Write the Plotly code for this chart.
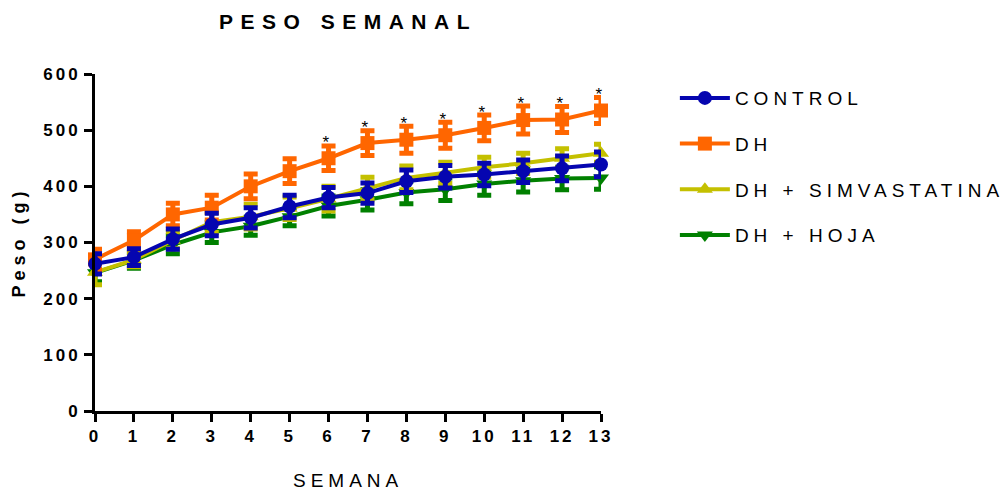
import plotly.graph_objects as go

weeks = list(range(14))
tick_labels = [str(w) for w in weeks]

control = [262, 274, 306, 332, 344, 364, 380, 388, 409, 417, 421, 427, 432, 439]
control_err = [18, 15, 18, 20, 18, 20, 18, 18, 20, 20, 20, 20, 22, 22]

dh = [270, 304, 350, 362, 400, 427, 450, 477, 483, 491, 504, 518, 519, 535]
dh_err = [18, 15, 20, 22, 22, 22, 22, 22, 24, 23, 23, 25, 23, 23]

simva = [247, 269, 304, 336, 346, 361, 378, 396, 415, 424, 434, 441, 450, 459]
simva_err = [22, 12, 15, 18, 22, 20, 22, 20, 21, 19, 18, 18, 17, 16]

hoja = [246, 268, 296, 318, 329, 346, 365, 376, 389, 395, 404, 410, 414, 415]
hoja_err = [16, 14, 16, 18, 16, 16, 18, 18, 20, 20, 20, 20, 20, 20]

signif_weeks = [6, 7, 8, 9, 10, 11, 12, 13]

FONT = "Liberation Sans, Arial, sans-serif"

# drawn bottom to top; legend rank gives the displayed order
series = [
    ("DH + HOJA", hoja, hoja_err, "#008000", "triangle-down", 4),
    ("DH + SIMVASTATINA", simva, simva_err, "#C4C000", "triangle-up", 3),
    ("DH", dh, dh_err, "#FF6600", "square", 2),
    ("CONTROL", control, control_err, "#0505B0", "circle", 1),
]

fig = go.Figure()
for name, vals, errs, color, sym, rank in series:
    fig.add_trace(go.Scatter(
        x=weeks, y=vals, name=name, mode="lines+markers",
        legendgroup=name, legendrank=rank,
        line=dict(color=color, width=4),
        marker=dict(color=color, symbol=sym, size=14),
        error_y=dict(type="data", array=errs, visible=True,
                     color=color, thickness=5, width=7),
        cliponaxis=False,
    ))

for w in signif_weeks:
    fig.add_annotation(x=w, y=dh[w] + dh_err[w], text="*", showarrow=False,
                       xref="x", yref="y", xanchor="center", yanchor="middle",
                       yshift=3, font=dict(family=FONT, size=17, color="black"))

fig.update_layout(
    width=1006, height=491,
    margin=dict(l=95, r=405, t=74, b=80, autoexpand=False),
    paper_bgcolor="white", plot_bgcolor="white",
    font=dict(family=FONT, color="black"),
    title=dict(text="<b>PESO SEMANAL</b>", x=0.5, xref="paper", xanchor="center",
               y=1 - 22 / 491, yref="container", yanchor="middle",
               font=dict(size=21, family=FONT, color="black")),
    legend=dict(x=1.146, xanchor="left", y=0.985, yanchor="top",
                traceorder="grouped", tracegroupgap=18, itemwidth=50,
                font=dict(size=19, family=FONT, color="black"),
                bgcolor="rgba(0,0,0,0)"),
    showlegend=True,
)

fig.update_xaxes(
    range=[0, 13], tickmode="array", tickvals=weeks, ticktext=tick_labels,
    showline=True, linecolor="black", linewidth=3, ticks="outside",
    ticklen=8, tickwidth=3, tickcolor="black", showgrid=False, zeroline=False,
    tickfont=dict(size=17, family=FONT, color="black", weight="bold"),
)
fig.update_yaxes(
    range=[0, 600], tickmode="array", tickvals=[0, 100, 200, 300, 400, 500, 600],
    showline=True, linecolor="black", linewidth=3, ticks="outside",
    ticklen=8, tickwidth=3, tickcolor="black", showgrid=False, zeroline=False,
    tickfont=dict(size=17, family=FONT, color="black", weight="bold"),
)

fig.add_annotation(text="SEMANA", x=0.5, y=-0.2077, xref="paper", yref="paper",
                   showarrow=False, xanchor="center", yanchor="middle",
                   font=dict(size=19, family=FONT, color="black"))
fig.add_annotation(text="<b>Peso (g)</b>", x=-0.152, y=0.5, xref="paper", yref="paper",
                   showarrow=False, textangle=-90, xanchor="center", yanchor="middle",
                   font=dict(size=18, family=FONT, color="black"))

post = """
document.body.style.margin = '0';
var gd = document.getElementById('{plot_id}');
function sp(sel, v){ gd.querySelectorAll(sel).forEach(function(t){ t.style.letterSpacing = v; }); }
sp('.gtitle', '7.5px');
sp('.legendtext', '5px');
sp('.annotation-text', '5px');
sp('.xtick text', '3px');
sp('.ytick text', '3px');
gd.querySelectorAll('.legend .scrollbox, .legend').forEach(function(e){ e.removeAttribute('clip-path'); });
"""

fig.write_html("out.html", post_script=post, config={"displayModeBar": False})
